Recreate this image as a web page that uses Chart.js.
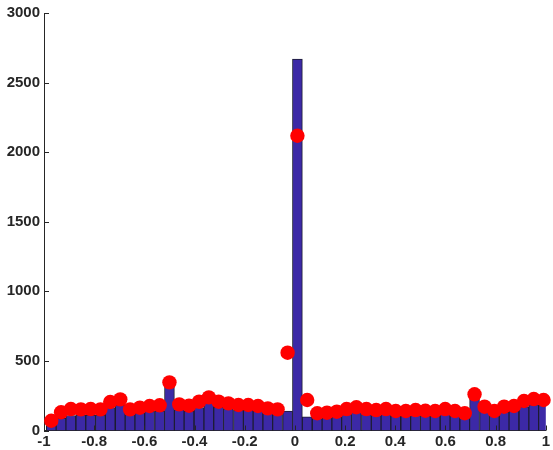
<!DOCTYPE html>
<html>
<head>
<meta charset="utf-8">
<script src="https://cdn.jsdelivr.net/npm/chart.js@4.4.0/dist/chart.umd.min.js"></script>
<style>
  html, body { margin: 0; padding: 0; background: #fff; }
  #wrap { width: 553px; height: 450px; }
</style>
</head>
<body>
<div id="wrap"><canvas id="myChart" width="553" height="450"></canvas></div>
<script>
// bin centres of the histogram
const binCenters = [
  -0.971, -0.932, -0.893, -0.853, -0.814, -0.775, -0.736, -0.696, -0.657, -0.618,
  -0.579, -0.539, -0.500, -0.461, -0.422, -0.382, -0.343, -0.304, -0.265, -0.225,
  -0.186, -0.147, -0.108, -0.069, -0.029, 0.010, 0.049, 0.089, 0.128, 0.167,
  0.206, 0.245, 0.285, 0.324, 0.363, 0.402, 0.442, 0.481, 0.520, 0.559,
  0.599, 0.638, 0.677, 0.716, 0.756, 0.795, 0.834, 0.873, 0.913, 0.952, 0.991
];
// bar heights (counts)
const barCounts = [
  45, 90, 108, 112, 110, 112, 165, 185, 120, 128,
  138, 142, 320, 150, 140, 165, 195, 168, 158, 146,
  145, 138, 126, 120, 140, 2669, 99, 90, 94, 100,
  118, 130, 118, 112, 116, 106, 105, 110, 108, 106,
  116, 106, 96, 224, 140, 108, 132, 140, 172, 186, 182
];
// red markers
const dotCounts = [
  70, 131, 154, 152, 154, 152, 205, 224, 152, 164,
  176, 181, 346, 188, 178, 207, 238, 207, 195, 183,
  183, 176, 159, 152, 559, 2118, 219, 124, 128, 135,
  154, 167, 154, 147, 154, 140, 140, 147, 142, 140,
  154, 140, 124, 260, 171, 140, 171, 176, 212, 226, 219
];
const xTicks = [-1, -0.8, -0.6, -0.4, -0.2, 0, 0.2, 0.4, 0.6, 0.8, 1];
const yTicks = [0, 500, 1000, 1500, 2000, 2500, 3000];

const axisColor = '#262626';
const tickFont = { family: 'Liberation Sans, Arial, Helvetica', size: 15, weight: 'bold' };

// MATLAB-like inward tick marks
const innerTicks = {
  id: 'innerTicks',
  afterDatasetsDraw(chart) {
    const { ctx, chartArea, scales } = chart;
    ctx.save();
    ctx.strokeStyle = axisColor;
    ctx.lineWidth = 1;
    ctx.beginPath();
    yTicks.forEach(v => {
      const y = Math.round(scales.y.getPixelForValue(v)) + 0.5;
      ctx.moveTo(chartArea.left, y);
      ctx.lineTo(chartArea.left + 5, y);
    });
    xTicks.forEach(v => {
      const x = Math.round(scales.x.getPixelForValue(v)) + 0.5;
      ctx.moveTo(x, chartArea.bottom);
      ctx.lineTo(x, chartArea.bottom - 5);
    });
    ctx.stroke();
    ctx.restore();
  }
};

const ctx = document.getElementById('myChart').getContext('2d');
const chart = new Chart(ctx, {
  data: {
    datasets: [{
      type: 'scatter',
      data: binCenters.map((x, i) => ({ x: x, y: dotCounts[i] })),
      backgroundColor: '#ff0000',
      borderColor: '#ff0000',
      borderWidth: 0,
      pointRadius: 7.2,
      pointHoverRadius: 7.2,
      clip: false,
      order: 1
    }, {
      type: 'bar',
      data: binCenters.map((x, i) => ({ x: x, y: barCounts[i] })),
      backgroundColor: '#3c29a6',
      borderColor: '#1c1c30',
      borderWidth: 1,
      barThickness: 9.9,
      order: 2
    }]
  },
  plugins: [innerTicks],
  options: {
    responsive: false,
    animation: false,
    layout: { padding: { top: 13, right: 4, left: 0, bottom: 0 } },
    plugins: { legend: { display: false }, tooltip: { enabled: false } },
    scales: {
      x: {
        type: 'linear',
        min: -1,
        max: 1,
        offset: false,
        afterFit: s => { s.height = 19.5; },
        afterBuildTicks: s => { s.ticks = xTicks.map(v => ({ value: v })); },
        grid: { display: false, drawTicks: false, offset: false },
        border: { display: true, color: axisColor },
        ticks: {
          color: axisColor,
          font: tickFont,
          padding: 2,
          maxRotation: 0,
          autoSkip: false,
          callback: v => String(v)
        }
      },
      y: {
        min: 0,
        max: 3000,
        afterFit: s => { s.width = 44; },
        afterBuildTicks: s => { s.ticks = yTicks.map(v => ({ value: v })); },
        grid: { display: false, drawTicks: false },
        border: { display: true, color: axisColor },
        ticks: {
          color: axisColor,
          font: tickFont,
          padding: 4,
          callback: v => String(v)
        }
      }
    }
  }
});
</script>
</body>
</html>
